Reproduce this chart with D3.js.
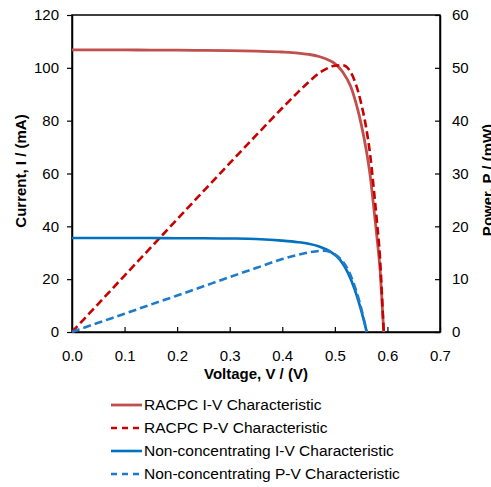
<!DOCTYPE html>
<html>
<head>
<meta charset="utf-8">
<script src="https://cdn.jsdelivr.net/npm/d3@7"></script>
<style>
    body { margin: 0; background: #fff; }
    svg { display: block; font-family: "Liberation Sans", Arial, sans-serif; }
    .tick text { font-size: 15px; fill: #000; }
    .axis-title { font-size: 15px; font-weight: bold; }
    .legend text { font-size: 15.5px; }
</style>
</head>
<body>
<svg width="491" height="487"></svg>
<script>
// RACPC I-V and P-V
const racpcV = [0, 0.05, 0.1, 0.15, 0.2, 0.25, 0.3, 0.35, 0.4, 0.43, 0.45, 0.47, 0.49, 0.5, 0.515, 0.53, 0.54, 0.55, 0.56, 0.567, 0.573, 0.58, 0.586, 0.589, 0.5915, 0.593];
const racpcI = [106.8, 106.8, 106.8, 106.7, 106.7, 106.6, 106.5, 106.3, 106.0, 105.6, 105.1, 104.3, 102.8, 101.6, 98.4, 93.0, 86.8, 78.8, 68.6, 59.5, 49, 36, 23.5, 14, 5, 0];
const racpcP = [0, 5.34, 10.68, 16.0, 21.34, 26.65, 31.95, 37.2, 42.4, 45.4, 47.3, 49.0, 50.1, 50.4, 50.5, 49.2, 46.9, 43.3, 38.4, 33.7, 28.1, 20.9, 13.8, 8.2, 3.0, 0];

// Non-concentrating I-V and P-V
const nonV = [0, 0.05, 0.1, 0.15, 0.2, 0.25, 0.3, 0.35, 0.4, 0.43, 0.45, 0.47, 0.49, 0.51, 0.525, 0.538, 0.548, 0.555, 0.5606];
const nonI = [35.6, 35.6, 35.6, 35.6, 35.5, 35.5, 35.4, 35.2, 34.6, 34.0, 33.4, 32.4, 30.6, 27.3, 22.4, 16.0, 9.6, 4.5, 0];
const nonPV = [0, 0.05, 0.1, 0.15, 0.2, 0.25, 0.3, 0.35, 0.4, 0.43, 0.45, 0.47, 0.48, 0.49, 0.51, 0.525, 0.538, 0.548, 0.555, 0.5606];
const nonP = [0, 1.75, 3.45, 5.2, 6.9, 8.65, 10.4, 12.1, 13.8, 14.6, 15.05, 15.35, 15.4, 15.2, 13.9, 11.8, 8.6, 5.3, 2.5, 0];

const xTicks = [0, 0.1, 0.2, 0.3, 0.4, 0.5, 0.6, 0.7];
const iTicks = [0, 20, 40, 60, 80, 100, 120];
const pTicks = [0, 10, 20, 30, 40, 50, 60];

const legendLabels = [
    "RACPC I-V Characteristic",
    "RACPC P-V Characteristic",
    "Non-concentrating I-V Characteristic",
    "Non-concentrating P-V Characteristic"
];

const margin = {top: 15, right: 51, bottom: 155, left: 72};
const width = 491 - margin.left - margin.right;
const height = 487 - margin.top - margin.bottom;

const svg = d3.select("svg");
const g = svg.append("g")
    .attr("transform", `translate(${margin.left},${margin.top})`);

const x = d3.scaleLinear().domain([0, 0.7]).range([0, width]);
const yI = d3.scaleLinear().domain([0, 120]).range([height, 0]);
const yP = d3.scaleLinear().domain([0, 60]).range([height, 0]);

// frame
g.append("rect")
    .attr("width", width)
    .attr("height", height)
    .attr("fill", "none")
    .attr("stroke", "#000")
    .attr("stroke-width", 1.5);

const xAxis = g.append("g")
    .attr("transform", `translate(0,${height})`)
    .call(d3.axisBottom(x).tickValues(xTicks).tickFormat(d3.format(".1f")).tickSizeInner(-5).tickSizeOuter(0).tickPadding(18));

const leftAxis = g.append("g")
    .call(d3.axisLeft(yI).tickValues(iTicks).tickSizeInner(5).tickSizeOuter(0).tickPadding(8));

const rightAxis = g.append("g")
    .attr("transform", `translate(${width},0)`)
    .call(d3.axisRight(yP).tickValues(pTicks).tickSizeInner(-5).tickSizeOuter(0).tickPadding(13));

[xAxis, leftAxis, rightAxis].forEach(a => {
    a.select(".domain").attr("stroke", "#000").attr("stroke-width", 1.5);
    a.selectAll(".tick line").attr("stroke", "#000").attr("stroke-width", 1.2);
    a.attr("font-family", null).attr("font-size", null);
});
rightAxis.selectAll(".tick text").attr("x", 12);

const series = [
    {v: racpcV, y: racpcI, scale: yI, color: "#C0504D", dash: null, w: 2.8},
    {v: racpcV, y: racpcP, scale: yP, color: "#C80000", dash: "8,4", w: 2.6},
    {v: nonV, y: nonI, scale: yI, color: "#0070C0", dash: null, w: 2.6},
    {v: nonPV, y: nonP, scale: yP, color: "#1E7BCC", dash: "8,4", w: 2.6}
];

series.forEach(s => {
    const line = d3.line()
        .x((d, i) => x(s.v[i]))
        .y(d => s.scale(d))
        .curve(d3.curveMonotoneX);
    g.append("path")
        .datum(s.y)
        .attr("fill", "none")
        .attr("stroke", s.color)
        .attr("stroke-width", s.w)
        .attr("stroke-dasharray", s.dash)
        .attr("d", line);
});

// axis titles
svg.append("text")
    .attr("class", "axis-title")
    .attr("x", margin.left + width / 2)
    .attr("y", 379)
    .attr("text-anchor", "middle")
    .text("Voltage, V / (V)");

svg.append("text")
    .attr("class", "axis-title")
    .attr("transform", "translate(26,171) rotate(-90)")
    .attr("text-anchor", "middle")
    .text("Current, I / (mA)");

// the reference cuts this title at the right edge
svg.append("text")
    .attr("class", "axis-title")
    .attr("transform", "translate(493,180) rotate(-90)")
    .attr("text-anchor", "middle")
    .text("Power, P / (mW)");

// legend
const legend = svg.append("g").attr("class", "legend");
legendLabels.forEach((label, i) => {
    const s = series[i];
    const row = legend.append("g").attr("transform", `translate(111,${405 + i * 23})`);
    row.append("line")
        .attr("x1", 0).attr("x2", 31)
        .attr("stroke", s.color)
        .attr("stroke-width", s.w)
        .attr("stroke-dasharray", s.dash ? "6,5" : null);
    row.append("text")
        .attr("x", 33)
        .attr("dy", "0.35em")
        .text(label);
});
</script>
</body>
</html>
